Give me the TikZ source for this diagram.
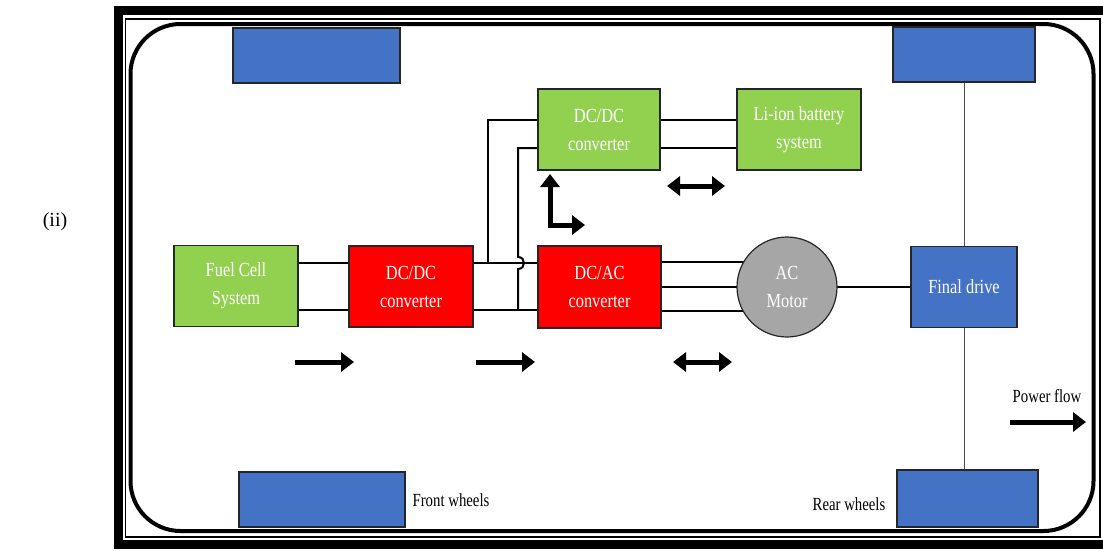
\documentclass[tikz,border=0pt]{standalone}
\usepackage{fontspec}
\setmainfont{Liberation Serif}
\newfontfamily\boxfont[FakeStretch=0.82]{Liberation Serif}
\newfontfamily\labfont[FakeStretch=0.8]{Liberation Serif}
\usetikzlibrary{arrows.meta,backgrounds}

\definecolor{fcgreen}{HTML}{92D050}
\definecolor{convred}{HTML}{FF0000}
\definecolor{wheelblue}{HTML}{4472C4}
\definecolor{motorgray}{HTML}{A6A6A6}

\begin{document}
\begin{tikzpicture}[x=1pt,y=-1pt,
  unit/.style={draw=black!85, line width=1.2pt, text=white, align=center,
    inner sep=0pt, font=\boxfont\fontsize{20}{28}\selectfont},
  greenbox/.style={unit, fill=fcgreen},
  redbox/.style={unit, fill=convred},
  bluebox/.style={unit, fill=wheelblue},
  wheel/.style={draw=black!85, line width=1.2pt, fill=wheelblue, inner sep=0pt},
  wire/.style={line width=2.6pt, black},
  tap/.style={line width=2pt, black},
  flow/.style={line width=5pt, -{Triangle[length=13pt,width=19pt]}},
  biflow/.style={line width=5pt, {Triangle[length=13pt,width=19pt]}-{Triangle[length=13pt,width=19pt]}},
  lab/.style={font=\labfont\fontsize{18.5}{22}\selectfont, inner sep=0pt}
]
\useasboundingbox (0,0) rectangle (1103,550);

% vehicle outline: outer frame, inner frame, rounded body
\draw[line width=9pt] (118,10.5) rectangle (1115,544.5);
\draw[line width=1.5pt] (125.5,19) rectangle (1100,537);
\draw[line width=4pt, rounded corners=50pt] (130.5,24) rectangle (1093.5,531);

% wheels
\node[wheel, minimum width=167pt, minimum height=55pt] (wheelTL) at (316.5,55.5) {};
\node[wheel, minimum width=142pt, minimum height=55pt] (wheelTR) at (964,54.5) {};
\node[wheel, minimum width=166pt, minimum height=55pt] (wheelBL) at (322,499.5) {};
\node[wheel, minimum width=141pt, minimum height=57pt] (wheelBR) at (967.5,498.5) {};

% powertrain blocks
\node[greenbox, minimum width=124pt, minimum height=81pt] (fc) at (236,286) {Fuel Cell\\System};
\node[redbox, minimum width=124pt, minimum height=81pt] (dcdc) at (411,286.5) {DC/DC\\converter};
\node[redbox, minimum width=123pt, minimum height=82pt] (dcac) at (599.5,287) {DC/AC\\converter};
\node[greenbox, minimum width=122pt, minimum height=81pt] (dcdcb) at (599,129.5) {DC/DC\\converter};
\node[greenbox, minimum width=124pt, minimum height=81pt] (batt) at (799,129.5) {Li-ion battery\\system};
\node[unit, circle, fill=motorgray, minimum size=100pt] (motor) at (787,287) {AC\\Motor};
\node[bluebox, minimum width=106pt, minimum height=81pt] (fd) at (964,287) {Final drive};

% wiring
\begin{scope}[on background layer]
  \draw[wire] (fc.east |- 0,263) -- (dcdc.west |- 0,263);
  \draw[wire] (fc.east |- 0,310) -- (dcdc.west |- 0,310);
  \draw[wire] (dcdc.east |- 0,263) -- (dcac.west |- 0,263);
  \draw[wire] (dcdc.east |- 0,310) -- (dcac.west |- 0,310);
  \draw[tap] (488,263) -- (488,120) -- (dcdcb.west |- 0,120);
  \draw[tap] (518,310) -- (518,269) .. controls (526,269) and (526,257) .. (518,257)
             -- (518,148) -- (dcdcb.west |- 0,148);
  \draw[wire] (dcdcb.east |- 0,120) -- (batt.west |- 0,120);
  \draw[wire] (dcdcb.east |- 0,148) -- (batt.west |- 0,148);
  \draw[wire] (dcac.east |- 0,262) -- (motor.center |- 0,262);
  \draw[wire] (dcac.east |- 0,287) -- (motor.center);
  \draw[wire] (dcac.east |- 0,311) -- (motor.center |- 0,311);
  \draw[wire] (motor.center) -- (fd.west |- motor.center);
  \draw[line width=1pt, black!70] (wheelTR.south) -- (wheelTR.south |- wheelBR.north);
\end{scope}

% power flow arrows
\coordinate (a1s) at (295,362);  \coordinate (a1e) at (354,362);
\coordinate (a2s) at (476,362);  \coordinate (a2e) at (535,362);
\coordinate (a3s) at (673,362);  \coordinate (a3e) at (732,362);
\coordinate (a4s) at (667,186);  \coordinate (a4e) at (725,186);
\coordinate (lc)  at (550,225);
\coordinate (lu)  at (550,174);
\coordinate (lr)  at (585,225);
\coordinate (pfs) at (1010,422); \coordinate (pfe) at (1086,422);

\draw[flow] (a1s) -- (a1e);
\draw[flow] (a2s) -- (a2e);
\draw[biflow] (a3s) -- (a3e);
\draw[biflow] (a4s) -- (a4e);
\draw[flow] ([yshift=2.5pt]lc) -- (lu);
\draw[flow] ([xshift=-2.5pt]lc) -- (lr);
\draw[flow] (pfs) -- (pfe);

% labels
\node[lab] (pftext) at (1047,396) {Power flow};
\node[lab] (fwtext) at (451,500) {Front wheels};
\node[lab] (rwtext) at (849,504) {Rear wheels};
\node[font=\fontsize{20}{24}\selectfont, inner sep=0pt] (part) at (55,222) {(ii)};
\end{tikzpicture}
\end{document}
